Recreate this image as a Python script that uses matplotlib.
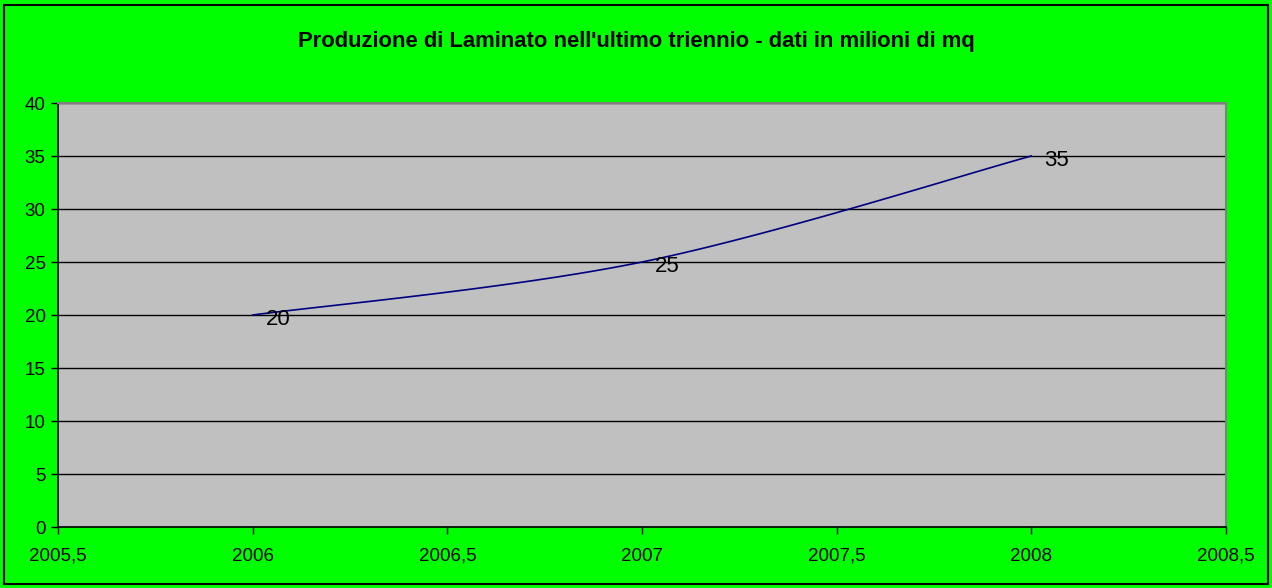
import matplotlib
matplotlib.use("Agg")
import matplotlib.pyplot as plt
import matplotlib.ticker as tick
from matplotlib.patches import Rectangle
import numpy as np

plt.rcParams["font.family"] = ["Liberation Sans", "DejaVu Sans"]

anni = [2006, 2007, 2008]
produzione = [20, 25, 35]
titolo = "Produzione di Laminato nell'ultimo triennio - dati in milioni di mq"


def smooth(xs, ys, n=40):
    # Catmull-Rom style smoothing between consecutive points
    px = [xs[0]] + list(xs) + [xs[-1]]
    py = [ys[0]] + list(ys) + [ys[-1]]
    out_x, out_y = [], []
    for i in range(1, len(px) - 2):
        p0 = np.array([px[i], py[i]], dtype=float)
        p3 = np.array([px[i + 1], py[i + 1]], dtype=float)
        c1 = p0 + (np.array([px[i + 1] - px[i - 1], py[i + 1] - py[i - 1]]) / 6.0)
        c2 = p3 - (np.array([px[i + 2] - px[i], py[i + 2] - py[i]]) / 6.0)
        t = np.linspace(0, 1, n)[:, None]
        b = ((1 - t) ** 3) * p0 + 3 * ((1 - t) ** 2) * t * c1 + 3 * (1 - t) * t ** 2 * c2 + t ** 3 * p3
        out_x.extend(b[:, 0])
        out_y.extend(b[:, 1])
    return out_x, out_y


def comma_fmt(v, pos):
    s = "{:g}".format(v)
    return s.replace(".", ",")


fig = plt.figure(figsize=(12.72, 5.88), dpi=100)
fig.patch.set_facecolor("#00ff00")
fig.patches.append(Rectangle((0.003, 0.006), 0.994, 0.986, transform=fig.transFigure,
                             fill=False, edgecolor="black", linewidth=1.5, zorder=10))

ax = fig.add_axes([0.0456, 0.1037, 0.9182, 0.7211])
ax.set_facecolor("#c0c0c0")

sx, sy = smooth(anni, produzione)
ax.plot(sx, sy, color="#000080", linewidth=1.2, zorder=3)

for x, y in zip(anni, produzione):
    ax.annotate(str(y), (x, y), xytext=(9.5, -3), textcoords="offset points",
                ha="left", va="center", fontsize=16, color="black", zorder=4)

ax.set_xlim(2005.5, 2008.5)
ax.set_ylim(0, 40)
ax.xaxis.set_major_locator(tick.MultipleLocator(0.5))
ax.yaxis.set_major_locator(tick.MultipleLocator(5))
ax.xaxis.set_major_formatter(tick.FuncFormatter(comma_fmt))
ax.yaxis.set_major_formatter(tick.FuncFormatter(comma_fmt))

ax.grid(axis="y", color="black", linewidth=1.0)
ax.set_axisbelow(True)
ax.tick_params(direction="out", length=5, width=1, labelsize=13.5, colors="black")
ax.tick_params(axis="x", pad=10)
ax.tick_params(axis="y", pad=4)

ax.spines["left"].set_color("black")
ax.spines["bottom"].set_color("black")
ax.spines["left"].set_linewidth(1.2)
ax.spines["bottom"].set_linewidth(1.2)
ax.spines["top"].set_color("#808080")
ax.spines["right"].set_color("#808080")
ax.spines["top"].set_linewidth(1.5)
ax.spines["right"].set_linewidth(1.5)

fig.text(0.5, 0.93, titolo, ha="center", va="center", fontsize=15.8, fontweight="bold")

fig.savefig("out.png", dpi=100, facecolor=fig.get_facecolor())
